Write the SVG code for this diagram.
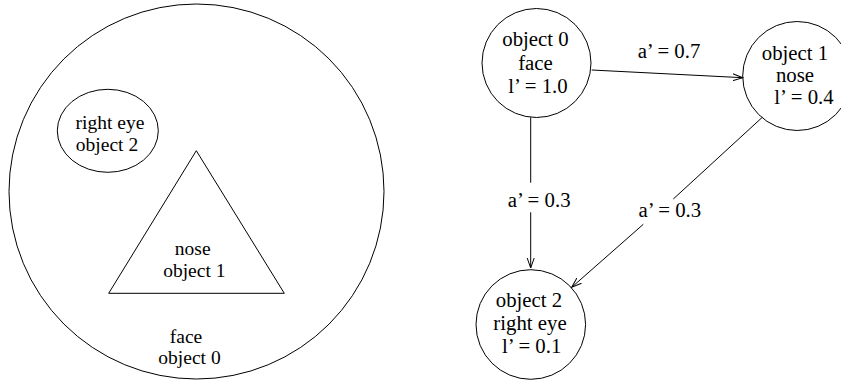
<svg xmlns="http://www.w3.org/2000/svg" width="841" height="383" viewBox="0 0 841 383">
<defs>
<style>
.s{fill:none;stroke:#000;stroke-width:1}
.t{fill:#000;text-anchor:middle}
.l{font-size:19.5px}
.r{font-size:20.8px}
</style>
<marker id="ah" markerUnits="userSpaceOnUse" markerWidth="12" markerHeight="10" refX="10" refY="4" orient="auto" viewBox="0 0 12 8">
<path d="M0,0.5 L10,4 L0,7.5" fill="none" stroke="#000" stroke-width="1"/>
</marker>
</defs>
<rect width="841" height="383" fill="#fff"/>
<g font-family="'Liberation Serif', 'Times New Roman', serif">
<g id="left-face">
<circle class="s" cx="196.5" cy="191.5" r="187.5"/>
<text class="t l" x="186" y="342.5">face</text>
<text class="t l" x="189.5" y="364">object 0</text>
</g>
<g id="left-eye">
<ellipse class="s" cx="107.8" cy="130.8" rx="50.5" ry="41.5"/>
<text class="t l" x="110" y="129">right eye</text>
<text class="t l" x="107" y="150.5">object 2</text>
</g>
<g id="left-nose">
<polygon class="s" points="196.3,150.7 108.7,293.3 284.3,293.3"/>
<text class="t l" x="192.7" y="255">nose</text>
<text class="t l" x="194.3" y="276.5">object 1</text>
</g>
<g id="connectors">
<path class="s" d="M591.7,70 L742.7,77.7" marker-end="url(#ah)"/>
<path class="s" d="M530.7,117.3 L530.7,182.7"/>
<path class="s" d="M530.7,212.3 L530.7,268" marker-end="url(#ah)"/>
<path class="s" d="M762.3,117.3 L673.3,199"/>
<path class="s" d="M643.3,224.3 L571.7,287.3" marker-end="url(#ah)"/>
<text class="t r" x="669" y="58.3">a’ = 0.7</text>
<text class="t r" x="539.2" y="206.7">a’ = 0.3</text>
<text class="t r" x="669.8" y="217.3">a’ = 0.3</text>
</g>
<g id="node0">
<circle class="s" cx="536.5" cy="63" r="54.5"/>
<text class="t r" x="535.5" y="46.3">object 0</text>
<text class="t r" x="535.5" y="69.5">face</text>
<text class="t r" x="538" y="93.3">l’ = 1.0</text>
</g>
<g id="node1">
<circle class="s" cx="797.2" cy="76" r="54.5"/>
<text class="t r" x="795" y="60">object 1</text>
<text class="t r" x="795" y="82">nose</text>
<text class="t r" x="804" y="104.3">l’ = 0.4</text>
</g>
<g id="node2">
<circle class="s" cx="530.8" cy="324.5" r="54.8"/>
<text class="t r" x="529" y="307.3">object 2</text>
<text class="t r" x="530" y="330">right eye</text>
<text class="t r" x="531.7" y="353.3">l’ = 0.1</text>
</g>
</g>
</svg>
